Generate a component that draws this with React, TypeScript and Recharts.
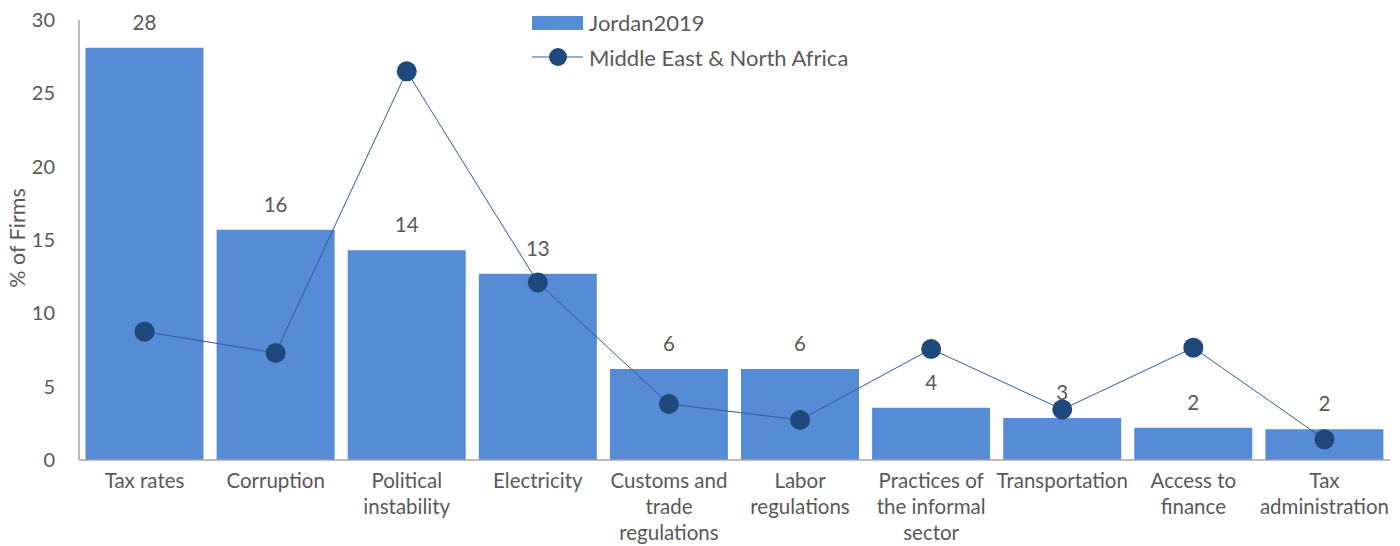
import React from 'react';
import { ComposedChart, Bar, Line, XAxis, YAxis, LabelList } from 'recharts';

const categories = [
  'Tax rates', 'Corruption', 'Political instability', 'Electricity', 'Customs and trade regulations',
  'Labor regulations', 'Practices of the informal sector', 'Transportation', 'Access to finance', 'Tax administration',
];
const tickLines: string[][] = [
  ['Tax rates'], ['Corruption'], ['Political', 'instability'], ['Electricity'], ['Customs and', 'trade', 'regulations'],
  ['Labor', 'regulations'], ['Practices of', 'the informal', 'sector'], ['Transportation'], ['Access to', 'finance'], ['Tax', 'administration'],
];
const jordan2019 = [28.1, 15.7, 14.3, 12.7, 6.2, 6.2, 3.57, 2.86, 2.2, 2.09];
const mena = [8.75, 7.3, 26.5, 12.1, 3.82, 2.73, 7.57, 3.45, 7.66, 1.41];
const yTicks = [0, 5, 10, 15, 20, 25, 30];
const seriesNames = ['Jordan2019', 'Middle East & North Africa'];

const data = categories.map((c, i) => ({ name: c, idx: i, jordan: jordan2019[i], mena: mena[i] }));

const FONT = 'Lato, "Open Sans", sans-serif';
const TXT = '#595959';
const BAR = '#558CD5';
const DOT = '#1F497D';
const LINE = '#2F5D9A';

const XTick = (props: any) => {
  const { x, y, payload } = props;
  const lines = tickLines[payload.index] || [String(payload.value)];
  return (
    <text x={x} y={y} textAnchor="middle" fill={TXT} fontSize={20.5} fontFamily={FONT}>
      {lines.map((l, i) => (
        <tspan key={i} x={x} dy={i === 0 ? 26 : 26}>{l}</tspan>
      ))}
    </text>
  );
};

const YLabel = () => (
  <text x={17} y={238} transform="rotate(-90, 17, 238)" textAnchor="middle" dominantBaseline="central"
    fill={TXT} fontSize={21.5} fontFamily={FONT}>% of Firms</text>
);

const LegendBox = () => (
  <svg width={360} height={70} style={{ position: 'absolute', left: 532, top: 0, display: 'block' }}>
    <rect x={0} y={16} width={51} height={14} fill={BAR} />
    <text x={57} y={22} dominantBaseline="central" fill={TXT} fontSize={22} fontFamily={FONT}>{seriesNames[0]}</text>
    <line x1={0} y1={57} x2={51} y2={57} stroke={LINE} strokeWidth={1} />
    <circle cx={26} cy={57} r={9} fill={DOT} />
    <text x={57} y={57} dominantBaseline="central" fill={TXT} fontSize={22} fontFamily={FONT}>{seriesNames[1]}</text>
  </svg>
);

export default function App() {
  return (
    <div style={{ position: 'absolute', left: 0, top: 0, width: 1400, height: 546, background: '#fff' }}>
      <ComposedChart width={1400} height={546} data={data} margin={{ top: 20, right: 10, left: 0, bottom: 0 }} barCategoryGap={6.5}>
        <XAxis dataKey="name" height={86} tickLine={false} tickSize={0} tick={<XTick />} interval={0}
          axisLine={{ stroke: '#A6A6A6', strokeWidth: 1.5 }} />
        <YAxis width={79} domain={[0, 30]} ticks={yTicks} tickLine={false} tickSize={0} tickMargin={24}
          axisLine={{ stroke: '#A6A6A6', strokeWidth: 1.5 }}
          tick={{ fill: TXT, fontSize: 20, fontFamily: FONT }}
          label={<YLabel />} />
        <Bar dataKey="jordan" name={seriesNames[0]} fill={BAR} isAnimationActive={false}>
          <LabelList dataKey="jordan" position="top" offset={18} formatter={(v: any) => Math.round(Number(v))}
            style={{ fill: TXT, fontSize: 20.5, fontFamily: FONT }} />
        </Bar>
        <Line dataKey="mena" name={seriesNames[1]} stroke={LINE} strokeWidth={1}
          dot={{ r: 10, fill: DOT, stroke: DOT, strokeWidth: 0 }} activeDot={false} isAnimationActive={false} />
      </ComposedChart>
      <LegendBox />
    </div>
  );
}
